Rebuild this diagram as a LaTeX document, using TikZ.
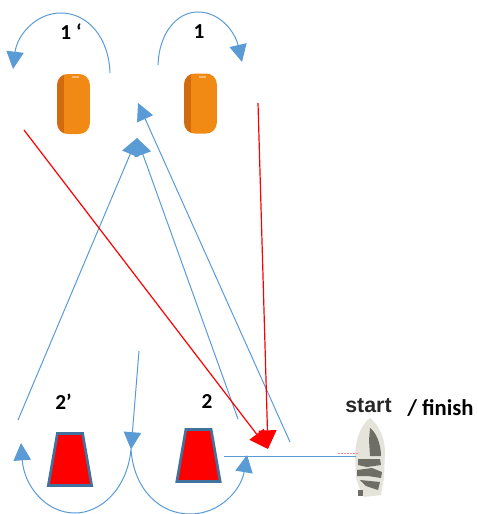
\documentclass[tikz,border=0pt]{standalone}
\usepackage{fontspec}
\setmainfont{Carlito}
\newfontfamily\startfont{Liberation Sans}
\usetikzlibrary{arrows.meta,shapes.geometric}
\definecolor{lineblue}{HTML}{5B9BD5}
\definecolor{markerblue}{HTML}{41719C}
\definecolor{buoyorange}{HTML}{F08A14}
\definecolor{buoydark}{HTML}{D26A0E}
\definecolor{hull}{HTML}{E4E4DA}
\definecolor{cabin}{HTML}{6E6E66}
\tikzset{
  route/.style={draw=lineblue,line width=0.75pt,-{Triangle[length=13pt,width=13pt,fill=lineblue]}},
  plainroute/.style={draw=lineblue,line width=0.75pt},
  redroute/.style={draw=red,line width=0.9pt,-{Triangle[length=14pt,width=13.5pt,fill=red]}},
  label/.style={font=\bfseries\fontsize{16}{18}\selectfont,text=black,inner sep=0pt},
  buoy/.style={draw=none,fill=buoyorange,rounded corners=8pt,minimum width=24.5pt,minimum height=45pt,inner sep=0pt,
    path picture={
      \fill[buoydark,sharp corners] (path picture bounding box.south west) rectangle ([xshift=5pt]path picture bounding box.north west);
      \fill[buoyorange!60!white,sharp corners] ([xshift=11pt,yshift=-1.5pt]path picture bounding box.north west) rectangle ([xshift=16pt,yshift=-3pt]path picture bounding box.north west);
    }},
  gate/.style={trapezium,trapezium stretches=true,trapezium left angle=72,trapezium right angle=72,draw=markerblue,fill=red,line width=2pt,minimum width=32.5pt,minimum height=39pt,inner sep=0pt},
}
\begin{document}
\begin{tikzpicture}[x=0.75pt,y=-0.75pt]
\useasboundingbox (0,0) rectangle (478,514);
% buoys and gates
\node[buoy] (buoyL) at (73.5,104) {};
\node[buoy] (buoyR) at (200.5,103.5) {};
\node[gate] (gateL) at (70,459.5) {\phantom{x}};
\node[gate] (gateR) at (198.5,455.5) {\phantom{x}};
% boat
\fill[hull] (370,418) .. controls (362,424) and (356,436) .. (355,455) -- (356,478) -- (360,490) -- (364,497) -- (381,495) -- (384,478) -- (385,450) .. controls (384,436) and (378,424) .. (370,418) -- cycle;
\fill[cabin] (370,428) .. controls (376,432) and (381,444) .. (381,456) -- (370,456) -- (369,440) -- cycle;
\fill[cabin] (358,459) -- (380,459) -- (381,465) -- (367,467) -- (358,465) -- cycle;
\fill[cabin] (357,470) -- (372,468) -- (382,472) -- (381,478) -- (368,476) -- (357,476) -- cycle;
\fill[cabin] (360,480) -- (380,482) -- (378,490) -- (366,486) -- cycle;
\fill[cabin] (358,490) rectangle (363,496);
\draw[red!45,line width=0.6pt,dash pattern=on 1.5pt off 0.7pt] (338,453.5) -- (358,453.5);
% labels
\node[label] (t1p) at (71,32) {1 ‘};
\node[label] (t1) at (199,32) {1};
\node[label] (t2p) at (63.5,402) {2’};
\node[label] (t2) at (207,402) {2};
\node[font=\startfont\bfseries\fontsize{16}{18}\selectfont,text=black!85,inner sep=0pt] (tstart) at (368.5,405.5) {start};
\node[label,anchor=west,font=\bfseries\fontsize{17}{19}\selectfont] (tfinish) at (407,408) {/ finish};
% connector ends
\coordinate (a1s) at (110,73);
\coordinate (a1e) at (13,69);
\coordinate (a2s) at (158,65);
\coordinate (a2e) at (242,62);
\coordinate (r1s) at (24,130);
\coordinate (r2s) at (258,103);
\coordinate (rtip) at (268,449);
\coordinate (b1s) at (18,420);
\coordinate (b2s) at (238,419);
\coordinate (b3s) at (290,442);
\coordinate (tipA) at (137,138);
\coordinate (tipB) at (138,103);
\coordinate (d1s) at (139,351);
\coordinate (d1e) at (131,449.5);
\coordinate (a3e) at (21,443);
\coordinate (a4e) at (247,455);
\coordinate (hs) at (356,456);
\coordinate (he) at (224,456);
% blue routes
\draw[route] (a1s) .. controls (109,38) and (88,13) .. (61,13) .. controls (35,13) and (17,36) .. (a1e);
\draw[route] (a2s) .. controls (159,34) and (176,12) .. (198,12) .. controls (220,12) and (235,32) .. (a2e);
\draw[route] (b1s) -- (tipA);
\draw[route] (b2s) -- (tipA);
\draw[route] (b3s) -- (tipB);
\draw[route] (d1s) -- (d1e);
\draw[route] (d1e) .. controls (127,490) and (100,513) .. (75,513) .. controls (45,513) and (24,485) .. (a3e);
\draw[route] (d1e) .. controls (134,490) and (160,514) .. (190,514) .. controls (220,514) and (241,490) .. (a4e);
\draw[plainroute] (hs) -- (he);
% red routes
\draw[redroute] (r1s) -- (rtip);
\draw[redroute] (r2s) -- (rtip);
\end{tikzpicture}
\end{document}
